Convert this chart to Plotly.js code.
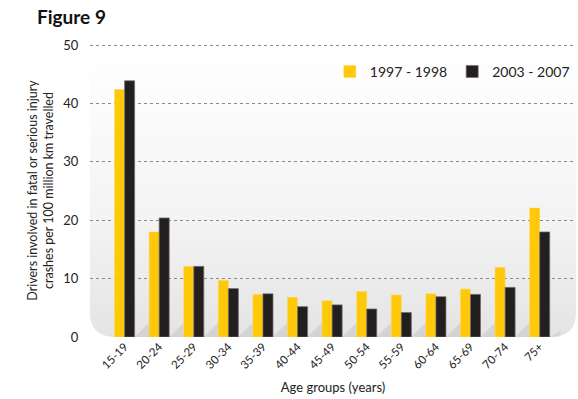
<!DOCTYPE html>
<html>
<head>
<meta charset="utf-8">
<script src="https://cdn.plot.ly/plotly-3.0.1.min.js"></script>
<style>html,body{margin:0;padding:0;background:#fff;}#chart{width:578px;height:399px;}</style>
</head>
<body>
<div id="chart"></div>
<script>
const ageGroups = ["15-19","20-24","25-29","30-34","35-39","40-44","45-49","50-54","55-59","60-64","65-69","70-74","75+"];
const series1Name = "1997 - 1998";
const series1 = [42.4, 18.0, 12.1, 9.7, 7.3, 6.8, 6.2, 7.8, 7.2, 7.4, 8.2, 11.9, 22.1];
const series2Name = "2003 - 2007";
const series2 = [43.9, 20.4, 12.1, 8.3, 7.4, 5.2, 5.5, 4.8, 4.2, 6.9, 7.3, 8.5, 18.0];
const yTicks = [0, 10, 20, 30, 40, 50];

const bgSvg = '<svg xmlns="http://www.w3.org/2000/svg" width="486" height="293" viewBox="0 0 486 293" preserveAspectRatio="none">' +
  '<defs><linearGradient id="g" x1="0" y1="0" x2="0" y2="1">' +
  '<stop offset="0" stop-color="#ffffff"/><stop offset="0.6" stop-color="#f3f3f3"/><stop offset="1" stop-color="#e4e4e4"/>' +
  '</linearGradient></defs>' +
  '<path d="M0,0 H486 V268 Q486,293 461,293 H25 Q0,293 0,268 Z" fill="url(#g)"/></svg>';
const bgUri = 'data:image/svg+xml;base64,' + btoa(bgSvg);

const font = "Lato, 'Open Sans', sans-serif";

const bargap = 0.42;
const half = (1 - bargap) / 2;
// decorative floor shadows cast to the right of each bar pair
const shadows = ageGroups.slice(0, ageGroups.length - 1).map((c, i) => ({
  type:'path', xref:'x', yref:'y', layer:'below',
  path:`M${i + half},0 L${i + 1 - half},0 L${i + 1 - half},2.5 Z`,
  fillcolor:'rgba(0,0,0,0.07)', line:{width:0}
}));
shadows.push({
  type:'path', xref:'x', yref:'y', layer:'below',
  path:`M${12 + half},0 L${12.6},0 L${12.6},1.2 Z`,
  fillcolor:'rgba(0,0,0,0.06)', line:{width:0}
});

const data = [
  {type:'bar', name: series1Name, x: ageGroups, y: series1,
   marker:{color:'#ffc90a', line:{color:'rgba(255,215,80,0.9)', width:0.5}}},
  {type:'bar', name: series2Name, x: ageGroups, y: series2,
   marker:{color:'#231f1e', line:{color:'rgba(110,110,110,0.9)', width:0.8}}}
];

const layout = {
  width:578, height:399,
  margin:{l:90, r:2, t:44, b:62},
  paper_bgcolor:'#ffffff', plot_bgcolor:'rgba(0,0,0,0)',
  font:{family:font, color:'#222', size:12},
  title:{text:'<b>Figure 9</b>', font:{family:font, size:19, color:'#111'},
         xref:'container', yref:'container', x:37/578, xanchor:'left', y:1-17/399, yanchor:'middle'},
  barmode:'group', bargap:bargap, bargroupgap:0,
  xaxis:{range:[-1.0, 13.05], tickangle:-45, tickfont:{size:11.5, color:'#222'},
         showgrid:false, zeroline:false, showline:false, ticks:'',
         title:{text:'Age groups (years)', font:{size:13, color:'#222'}, standoff:12}},
  yaxis:{range:[0,50.2], tickvals:yTicks, tickfont:{size:13, color:'#222'},
         showgrid:true, gridcolor:'#8a8a8a', griddash:'3px,3px', gridwidth:1,
         zeroline:false, showline:false, ticks:'outside', ticklen:8, tickcolor:'rgba(0,0,0,0)',
         title:{text:'Drivers involved in fatal or serious injury<br>crashes per 100 million km travelled', font:{size:12.5, color:'#222'}, standoff:6}},
  legend:{orientation:'h', x:0.4935, xanchor:'left', y:0.905, yanchor:'middle',
          font:{size:14, color:'#222'}, bgcolor:'rgba(0,0,0,0)', itemwidth:30, traceorder:'normal'},
  shapes: shadows,
  images:[{source:bgUri, xref:'paper', yref:'paper', x:0, y:0.975, sizex:1, sizey:0.975,
           xanchor:'left', yanchor:'top', sizing:'stretch', layer:'below'}]
};

Plotly.newPlot('chart', data, layout, {displayModeBar:false, staticPlot:true});
</script>
</body>
</html>
